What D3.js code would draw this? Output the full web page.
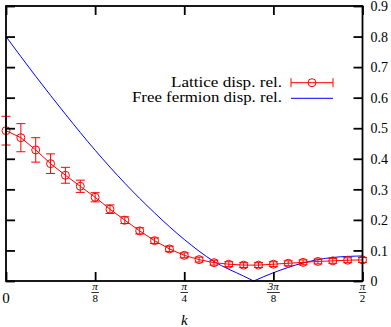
<!DOCTYPE html>
<html>
<head>
<meta charset="utf-8">
<script src="https://cdn.jsdelivr.net/npm/d3@7"></script>
<style>
  html, body { margin: 0; padding: 0; background: #fff; }
  svg { display: block; }
  text { font-family: "Liberation Serif", "DejaVu Serif", serif; fill: #000; }
</style>
</head>
<body>
<svg id="chart" width="391" height="327"></svg>
<script>
// ---- data ----
// lattice dispersion: k in units of pi/48
const latticeKSteps = [0,1,2,3,4,5,6,7,8,9,10,11,12,13,14,15,16,17,18,19,20,21,22,23,24];
const latticeE = [0.492,0.469,0.429,0.384,0.346,0.310,0.274,0.235,0.199,0.164,0.132,0.105,0.084,
                  0.070,0.060,0.055,0.052,0.052,0.055,0.058,0.061,0.064,0.066,0.068,0.069];
const latticeErr = [0.047,0.046,0.040,0.032,0.026,0.020,0.015,0.014,0.011,0.010,0.009,0.009,0.008,
                    0.008,0.008,0.008,0.008,0.008,0.008,0.008,0.008,0.008,0.008,0.008,0.008];
// free fermion dispersion: k in units of pi
const freeKOverPi = [0, 1/24, 2/24, 3/24, 4/24, 5/24, 6/24, 7/24, 8/24, 0.3474, 9/24, 10/24, 11/24, 12/24];
const freeE = [0.800,0.670,0.546,0.428,0.320,0.223,0.136,0.064,0.016,0.000,0.027,0.059,0.077,0.082];

const xTicks = [0, Math.PI/8, Math.PI/4, 3*Math.PI/8, Math.PI/2];
const xTickNum = ["0", "π", "π", "3π", "π"];
const xTickDen = ["", "8", "4", "8", "2"];
const yTicks = [0,0.1,0.2,0.3,0.4,0.5,0.6,0.7,0.8,0.9];
const yTickLabels = ["0","0.1","0.2","0.3","0.4","0.5","0.6","0.7","0.8","0.9"];
const legendLabels = ["Lattice disp. rel.", "Free fermion disp. rel."];
const xLabel = "k";

// ---- layout ----
const L = 6, R = 362.5, T = 6, B = 281;
const svg = d3.select("#chart");
const x = d3.scaleLinear().domain([0, Math.PI/2]).range([L, R]);
const y = d3.scaleLinear().domain([0, 0.9]).range([B, T]);

const RED = "#ff0000", BLUE = "#0000ff";

// ---- free fermion line (two branches keep the sharp minimum) ----
const free = freeKOverPi.map((k,i) => ({k: k*Math.PI, e: freeE[i]}));
const zi = freeE.indexOf(0);
const branches = [free.slice(0, zi+1), free.slice(zi)];
const fLine = d3.line().x(d => x(d.k)).y(d => y(d.e)).curve(d3.curveMonotoneX);
svg.append("g").selectAll("path").data(branches).join("path")
  .attr("d", fLine).attr("fill","none").attr("stroke",BLUE).attr("stroke-width",1);

// ---- lattice data ----
const lat = latticeKSteps.map((s,i) => ({k: s*Math.PI/48, e: latticeE[i], err: latticeErr[i]}));
const lLine = d3.line().x(d => x(d.k)).y(d => y(d.e));
svg.append("path").datum(lat).attr("d", lLine)
  .attr("fill","none").attr("stroke",RED).attr("stroke-width",1);

const cap = 4.5;
const eb = svg.append("g").attr("stroke",RED).attr("stroke-width",1).attr("fill","none");
const ebG = eb.selectAll("g").data(lat).join("g");
ebG.append("line").attr("x1",d=>x(d.k)).attr("x2",d=>x(d.k))
  .attr("y1",d=>y(d.e-d.err)).attr("y2",d=>y(d.e+d.err));
ebG.append("line").attr("x1",d=>x(d.k)-cap).attr("x2",d=>x(d.k)+cap)
  .attr("y1",d=>y(d.e+d.err)).attr("y2",d=>y(d.e+d.err));
ebG.append("line").attr("x1",d=>x(d.k)-cap).attr("x2",d=>x(d.k)+cap)
  .attr("y1",d=>y(d.e-d.err)).attr("y2",d=>y(d.e-d.err));
ebG.append("circle").attr("cx",d=>x(d.k)).attr("cy",d=>y(d.e)).attr("r",4);

// ---- axes (inward ticks on all four sides) ----
function styleAxis(g){
  g.select(".domain").remove();
  g.selectAll(".tick line").attr("stroke","#000").attr("stroke-width",1.8);
  g.selectAll(".tick text").remove();
}
svg.append("g").attr("transform",`translate(0,${B})`)
  .call(d3.axisTop(x).tickValues(xTicks).tickSizeInner(9).tickSizeOuter(0)).call(styleAxis);
svg.append("g").attr("transform",`translate(0,${T})`)
  .call(d3.axisBottom(x).tickValues(xTicks).tickSizeInner(9).tickSizeOuter(0)).call(styleAxis);
svg.append("g").attr("transform",`translate(${L},0)`)
  .call(d3.axisRight(y).tickValues(yTicks).tickSizeInner(9).tickSizeOuter(0)).call(styleAxis);

const yr = svg.append("g").attr("transform",`translate(${R},0)`)
  .call(d3.axisRight(y).tickValues(yTicks).tickSizeInner(-9).tickSizeOuter(0).tickPadding(8)
        .tickFormat((d,i) => yTickLabels[i]));
yr.select(".domain").remove();
yr.selectAll(".tick line").attr("stroke","#000").attr("stroke-width",1.8);
yr.selectAll(".tick text").attr("font-family","Liberation Serif, serif").attr("font-size",14)
  .attr("fill","#000").attr("dy","0.34em");

// frame
svg.append("rect").attr("x",L).attr("y",T).attr("width",R-L).attr("height",B-T)
  .attr("fill","none").attr("stroke","#000").attr("stroke-width",1.8);

// ---- x tick labels (fractions) ----
const xl = svg.append("g");
xTicks.forEach((v,i) => {
  const cx = x(v);
  if (!xTickDen[i]) {
    xl.append("text").attr("x",cx).attr("y",302.5).attr("text-anchor","middle")
      .attr("font-size",15).text(xTickNum[i]);
    return;
  }
  const num = xl.append("text").attr("x",cx).attr("y",289.5).attr("text-anchor","middle")
    .attr("font-size",11).attr("font-style","italic").text(xTickNum[i]);
  const den = xl.append("text").attr("x",cx).attr("y",302).attr("text-anchor","middle")
    .attr("font-size",11).text(xTickDen[i]);
  const w = Math.max(num.node().getComputedTextLength(), den.node().getComputedTextLength()) + 2;
  xl.append("line").attr("x1",cx-w/2).attr("x2",cx+w/2).attr("y1",292.5).attr("y2",292.5)
    .attr("stroke","#000").attr("stroke-width",0.8);
});
svg.append("text").attr("x",x(Math.PI/4)).attr("y",325).attr("text-anchor","middle")
  .attr("font-size",15).attr("font-style","italic").text(xLabel);

// ---- legend ----
const lg = svg.append("g");
const lx0 = 291, lx1 = 333, lTextX = 282;
lg.append("text").attr("x",lTextX).attr("y",87).attr("text-anchor","end")
  .attr("font-size",15).attr("textLength",111).attr("lengthAdjust","spacingAndGlyphs").text(legendLabels[0]);
lg.append("text").attr("x",lTextX).attr("y",102.3).attr("text-anchor","end")
  .attr("font-size",15).attr("textLength",150).attr("lengthAdjust","spacingAndGlyphs").text(legendLabels[1]);
const ly0 = 82.7, ly1 = 98.3;
const lr = lg.append("g").attr("stroke",RED).attr("stroke-width",1).attr("fill","none");
lr.append("line").attr("x1",lx0).attr("x2",lx1).attr("y1",ly0).attr("y2",ly0);
lr.append("line").attr("x1",lx0).attr("x2",lx0).attr("y1",ly0-4.5).attr("y2",ly0+4.5);
lr.append("line").attr("x1",lx1).attr("x2",lx1).attr("y1",ly0-4.5).attr("y2",ly0+4.5);
lr.append("circle").attr("cx",(lx0+lx1)/2).attr("cy",ly0).attr("r",4);
lg.append("line").attr("x1",lx0).attr("x2",lx1).attr("y1",ly1).attr("y2",ly1)
  .attr("stroke",BLUE).attr("stroke-width",1);
</script>
</body>
</html>
